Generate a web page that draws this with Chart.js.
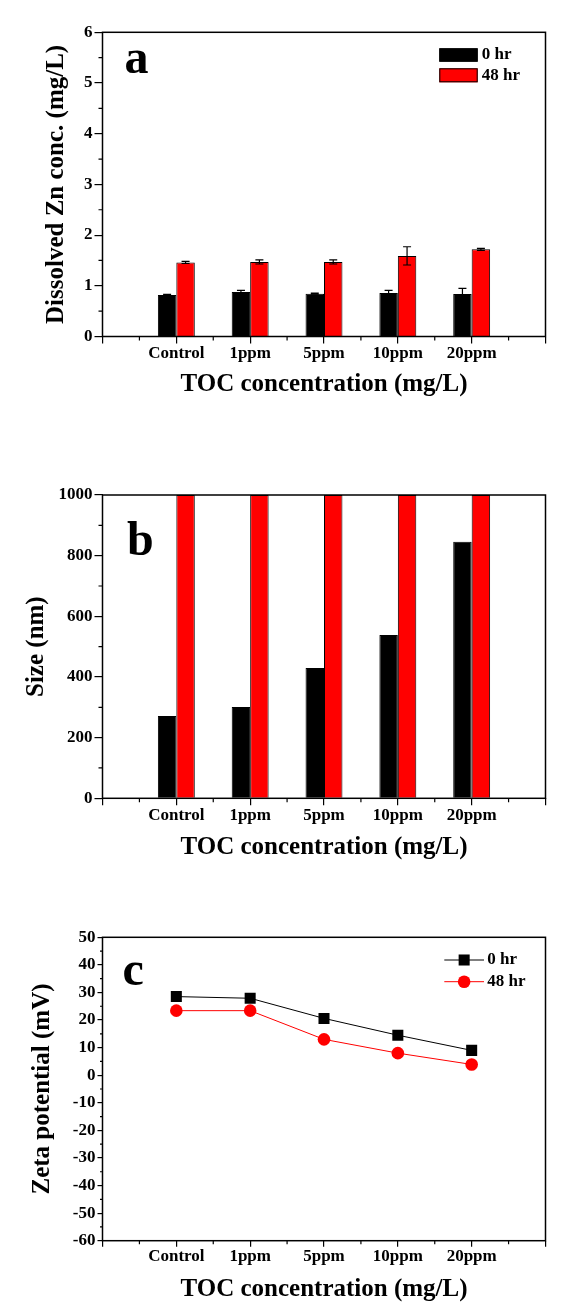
<!DOCTYPE html>
<html><head><meta charset="utf-8">
<script src="https://cdn.jsdelivr.net/npm/chart.js@4.4.0/dist/chart.umd.min.js"></script>
<style>
html,body{margin:0;padding:0;background:#fff;}
body{width:579px;height:1314px;position:relative;overflow:hidden;}
canvas{position:absolute;left:0;}
</style></head><body>
<canvas id="ca" width="579" height="440" style="top:0px"></canvas>
<canvas id="cb" width="579" height="440" style="top:440px"></canvas>
<canvas id="cc" width="579" height="434" style="top:880px"></canvas>
<script>
// ---------- data ----------
const categories = ['Control', '1ppm', '5ppm', '10ppm', '20ppm'];
const seriesNames = ['0 hr', '48 hr'];
const xTitle = 'TOC concentration (mg/L)';

const znConc0hr  = [0.82, 0.88, 0.845, 0.86, 0.84];
const znErr0hr   = [0.01, 0.03, 0.01, 0.05, 0.11];
const znConc48hr = [1.46, 1.47, 1.47, 1.59, 1.72];
const znErr48hr  = [0.02, 0.04, 0.04, 0.18, 0.02];
const znTicks    = [0, 1, 2, 3, 4, 5, 6];

const size0hr  = [271, 301, 430, 538, 846];
const size48hr = [1000, 1000, 1000, 1000, 1000];
const sizeTicks = [0, 200, 400, 600, 800, 1000];

const zeta0hr  = [28.5, 27.9, 20.6, 14.5, 9.0];
const zeta48hr = [23.4, 23.4, 13.0, 8.0, 3.9];
const zetaTicks = [-60, -50, -40, -30, -20, -10, 0, 10, 20, 30, 40, 50];

// ---------- helpers ----------
const FONT = "'Liberation Serif', 'Times New Roman', Times, serif";
Chart.defaults.font.family = FONT;
Chart.defaults.font.weight = 'bold';
Chart.defaults.font.size = 17;
Chart.defaults.color = '#000';

const xLabels = ['', ...categories, ''];
const pad = arr => [null, ...arr, null];
const mids = arr => arr.slice(1).map((v, i) => (v + arr[i]) / 2);

const framePlugin = {
  id: 'frame',
  afterDraw(chart, args, o) {
    const {ctx, chartArea: a, scales} = chart;
    ctx.save();
    ctx.strokeStyle = '#000';
    // minor ticks
    ctx.lineWidth = 1.2;
    ctx.beginPath();
    const xs = scales.x;
    for (let i = 0; i < xLabels.length - 1; i++) {
      const px = (xs.getPixelForValue(i) + xs.getPixelForValue(i + 1)) / 2;
      ctx.moveTo(px, a.bottom); ctx.lineTo(px, a.bottom + o.xMinor);
    }
    mids(o.yTicks).forEach(v => {
      const py = scales.y.getPixelForValue(v);
      ctx.moveTo(a.left, py); ctx.lineTo(a.left - o.yMinor, py);
    });
    ctx.stroke();
    ctx.lineWidth = 1.5;
    ctx.strokeRect(a.left, a.top, a.right - a.left, a.bottom - a.top);
    // panel letter
    ctx.fillStyle = '#000';
    ctx.font = 'bold 48px ' + FONT;
    ctx.textBaseline = 'alphabetic';
    ctx.textAlign = 'left';
    ctx.fillText(o.letter, o.lx, o.ly);
    // legend
    ctx.font = 'bold 17px ' + FONT;
    ctx.textBaseline = 'middle';
    (o.legend || []).forEach((L, i) => {
      const ds = chart.data.datasets[i];
      if (!ds || !L) return;
      if (o.legendType === 'bar') {
        ctx.fillStyle = ds.backgroundColor;
        ctx.fillRect(L.x, L.y - L.h / 2, L.w, L.h);
        ctx.lineWidth = 1;
        ctx.strokeStyle = '#000';
        ctx.strokeRect(L.x + 0.5, L.y - L.h / 2 + 0.5, L.w - 1, L.h - 1);
      } else {
        ctx.strokeStyle = ds.borderColor;
        ctx.lineWidth = 1;
        ctx.beginPath(); ctx.moveTo(L.x, L.y); ctx.lineTo(L.x + L.w, L.y); ctx.stroke();
        ctx.fillStyle = ds.pointBackgroundColor;
        const cx = L.x + L.w / 2;
        if (ds.pointStyle === 'rect') {
          const s = ds.pointRadius * Math.SQRT1_2;
          ctx.fillRect(cx - s, L.y - s, 2 * s, 2 * s);
        } else {
          ctx.beginPath(); ctx.arc(cx, L.y, ds.pointRadius, 0, Math.PI * 2); ctx.fill();
        }
      }
      ctx.fillStyle = '#000';
      ctx.fillText(ds.label, L.tx, L.y);
    });
    ctx.restore();
  }
};

const errorBarPlugin = {
  id: 'errorBars',
  afterDatasetsDraw(chart, args, o) {
    if (!o || !o.errors) return;
    const {ctx, scales} = chart;
    ctx.save();
    ctx.strokeStyle = '#000';
    ctx.lineWidth = 1.2;
    chart.data.datasets.forEach((ds, di) => {
      const meta = chart.getDatasetMeta(di);
      const errs = pad(o.errors[di]);
      meta.data.forEach((bar, j) => {
        const v = ds.data[j], e = errs[j];
        if (v == null || e == null) return;
        const yTop = scales.y.getPixelForValue(v + e);
        const yBot = scales.y.getPixelForValue(v - e);
        ctx.beginPath();
        ctx.moveTo(bar.x, yTop); ctx.lineTo(bar.x, yBot);
        ctx.moveTo(bar.x - 4, yTop); ctx.lineTo(bar.x + 4, yTop);
        ctx.moveTo(bar.x - 4, yBot); ctx.lineTo(bar.x + 4, yBot);
        ctx.stroke();
      });
    });
    ctx.restore();
  }
};

function build(id, c) {
  return new Chart(document.getElementById(id), {
    type: c.type,
    data: {labels: xLabels, datasets: c.datasets},
    plugins: [errorBarPlugin, framePlugin],
    options: {
      responsive: false,
      animation: false,
      devicePixelRatio: 1,
      layout: {padding: {left: 0, right: 33.5, top: c.padTop, bottom: 0}},
      plugins: {
        legend: {display: false},
        tooltip: {enabled: false},
        errorBars: {errors: c.errors},
        frame: {xMinor: c.xMinor, yMinor: c.yMinor, yTicks: c.yTicks, letter: c.letter,
                lx: c.lx, ly: c.ly, legend: c.legend, legendType: c.type}
      },
      scales: {
        x: {
          type: 'category',
          offset: false,
          grid: {offset: false, drawOnChartArea: false, color: '#000', lineWidth: 1.2, tickLength: c.xTick},
          border: {display: false},
          ticks: {autoSkip: false, maxRotation: 0, padding: 0, font: {size: 17}},
          title: {display: true, text: xTitle, font: {size: 25}, padding: {top: 0, bottom: c.xTitlePad}},
          afterFit: s => { s.height = c.xAxisH; }
        },
        y: {
          min: c.yTicks[0], max: c.yTicks[c.yTicks.length - 1],
          afterBuildTicks: s => { s.ticks = c.yTicks.map(v => ({value: v})); },
          grid: {drawOnChartArea: false, color: '#000', lineWidth: 1.2, tickLength: c.yTick},
          border: {display: false},
          ticks: {padding: 2, font: {size: 17}, callback: v => String(v)},
          title: {display: true, text: c.yTitle, font: {size: 25}, padding: {top: c.yTitlePad, bottom: 0}},
          afterFit: s => { s.width = 102.5; }
        }
      }
    }
  });
}

const barDs = (label, data, color) => ({
  label, data: pad(data), backgroundColor: color, borderColor: '#000', borderWidth: 1,
  categoryPercentage: 0.5, barPercentage: 1.0
});

build('ca', {
  type: 'bar',
  datasets: [barDs(seriesNames[0], znConc0hr, '#000000'), barDs(seriesNames[1], znConc48hr, '#ff0000')],
  errors: [znErr0hr, znErr48hr],
  yTicks: znTicks, yTitle: 'Dissolved Zn conc. (mg/L)',
  padTop: 32.3, xAxisH: 103.5, xTitlePad: 40, yTitlePad: 42,
  xTick: 7, xMinor: 4, yTick: 8, yMinor: 4,
  letter: 'a', lx: 124.5, ly: 73.3,
  legend: [{x: 439.3, y: 55, w: 38.4, h: 13.4, tx: 481.7}, {x: 439.3, y: 75.3, w: 38.4, h: 14, tx: 481.7}]
});

build('cb', {
  type: 'bar',
  datasets: [barDs(seriesNames[0], size0hr, '#000000'), barDs(seriesNames[1], size48hr, '#ff0000')],
  errors: null,
  yTicks: sizeTicks, yTitle: 'Size (nm)',
  padTop: 55, xAxisH: 81.7, xTitlePad: 17, yTitlePad: 22,
  xTick: 7, xMinor: 4, yTick: 8, yMinor: 4,
  letter: 'b', lx: 127, ly: 115,
  legend: []
});

const lineDs = (label, data, color, style, r) => ({
  label, data: pad(data), borderColor: color, borderWidth: 1, tension: 0,
  pointStyle: style, pointRadius: r, pointBackgroundColor: color, pointBorderWidth: 0,
  pointBorderColor: color
});

build('cc', {
  type: 'line',
  datasets: [lineDs(seriesNames[0], zeta0hr, '#000000', 'rect', 7.8), lineDs(seriesNames[1], zeta48hr, '#ff0000', 'circle', 6.3)],
  errors: null,
  yTicks: zetaTicks, yTitle: 'Zeta potential (mV)',
  padTop: 57.3, xAxisH: 73.3, xTitlePad: 9, yTitlePad: 28,
  xTick: 6, xMinor: 3.5, yTick: 5, yMinor: 2.5,
  letter: 'c', lx: 122.5, ly: 105,
  legend: [{x: 444.3, y: 80, w: 39.7, tx: 487.3}, {x: 444.3, y: 101.7, w: 39.7, tx: 487.3}]
});
</script>
</body></html>
